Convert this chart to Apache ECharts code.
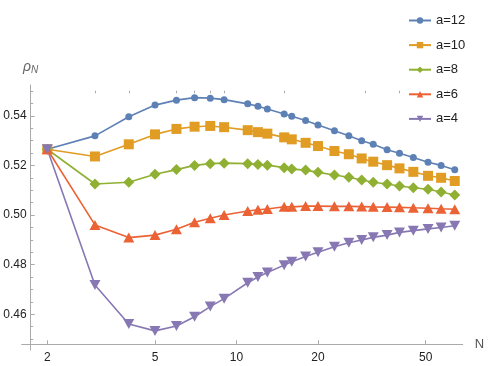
<!DOCTYPE html>
<html>
<head>
<meta charset="utf-8">
<script src="https://cdn.jsdelivr.net/npm/echarts@6/dist/echarts.min.js"></script>
<style>
  html, body { margin: 0; padding: 0; background: #fff; }
  #myChart { width: 498px; height: 366px; }
</style>
</head>
<body>
<div id="myChart"></div>
<script>
// N values (log axis)
var nValues = [2, 3, 4, 5, 6, 7, 8, 9, 11, 12, 13, 15, 16, 18, 20, 23, 26, 29, 32, 36, 40, 45, 51, 57, 64];

var a12 = [0.5265, 0.5319, 0.5396, 0.5443, 0.5463, 0.5473, 0.5471, 0.5465, 0.5448, 0.5438, 0.5427, 0.5407, 0.5398, 0.5381, 0.5363,
           0.5340, 0.5319, 0.5299, 0.5285, 0.5263, 0.5249, 0.5232, 0.5213, 0.5200, 0.5182];
var a10 = [0.5265, 0.5236, 0.5285, 0.5325, 0.5347, 0.5356, 0.5359, 0.5354, 0.5342, 0.5334, 0.5328, 0.5313, 0.5305, 0.5291, 0.5278,
           0.5258, 0.5245, 0.5228, 0.5215, 0.5201, 0.5188, 0.5174, 0.5158, 0.5150, 0.5137];
var a8 = [0.5265, 0.5125, 0.5132, 0.5164, 0.5183, 0.5200, 0.5207, 0.5209, 0.5207, 0.5204, 0.5201, 0.5191, 0.5185, 0.5181, 0.5172,
          0.5161, 0.5152, 0.5141, 0.5132, 0.5125, 0.5117, 0.5110, 0.5104, 0.5093, 0.5081];
var a6 = [0.5265, 0.4960, 0.4909, 0.4919, 0.4943, 0.4971, 0.4987, 0.5000, 0.5016, 0.5021, 0.5024, 0.5033, 0.5033, 0.5036, 0.5036,
          0.5035, 0.5035, 0.5034, 0.5033, 0.5032, 0.5031, 0.5029, 0.5027, 0.5025, 0.5023];
var a4 = [0.5265, 0.4718, 0.4561, 0.4533, 0.4553, 0.4590, 0.4631, 0.4663, 0.4727, 0.4750, 0.4768, 0.4798, 0.4812, 0.4833, 0.4850,
          0.4872, 0.4888, 0.4899, 0.4910, 0.4919, 0.4930, 0.4937, 0.4944, 0.4950, 0.4957];

var xMajorTicks = [2, 5, 10, 20, 50];
var xMinorTicks = [3, 4, 6, 7, 8, 9, 15, 30, 40, 60];
var yMajorTicks = [0.46, 0.48, 0.50, 0.52, 0.54];
var yMinorTicks = [0.45, 0.455, 0.465, 0.47, 0.475, 0.485, 0.49, 0.495, 0.505, 0.51, 0.515, 0.525, 0.53, 0.535, 0.545, 0.55];

var seriesNames = ['a=12', 'a=10', 'a=8', 'a=6', 'a=4'];
var seriesData = [a12, a10, a8, a6, a4];
var colors = ['#5e81b5', '#e19c24', '#8fb032', '#eb6235', '#8778b3'];
var symbols = ['circle', 'rect', 'diamond', 'triangle', 'path://M0,0 L10,0 L5,8.66 Z'];
var symbolSizes = [7, 10, 11, [11, 10], [11, 10]];

function lg(v) { return Math.log10(v); }

var axisColor = '#aaaaaa';
var font = 'Liberation Sans, Arial, sans-serif';
var xMin = 0.2065, xMax = 1.8356;
var yMin = 0.4456, yMax = 0.5524;

var series = seriesNames.map(function (name, i) {
  return {
    name: name,
    type: 'line',
    xAxisIndex: 0,
    yAxisIndex: 0,
    symbol: symbols[i],
    symbolSize: symbolSizes[i],
    showSymbol: true,
    lineStyle: { width: 1.6, color: colors[i] },
    itemStyle: { color: colors[i] },
    data: nValues.map(function (n, k) { return [lg(n), seriesData[i][k]]; })
  };
});

var option = {
  animation: false,
  color: colors,
  textStyle: { fontFamily: font },
  grid: { left: 21.7, right: 35.3, top: 85, bottom: 16 },
  legend: {
    orient: 'vertical',
    left: 403,
    top: 8,
    itemWidth: 22,
    itemHeight: 8,
    itemGap: 9.6,
    textStyle: { fontSize: 13, color: '#222', fontFamily: font, lineHeight: 15 },
    data: seriesNames
  },
  xAxis: [
    {
      type: 'value',
      min: xMin,
      max: xMax,
      offset: -5.7,
      name: 'N',
      nameLocation: 'end',
      nameGap: 12,
      nameTextStyle: { fontSize: 13, color: '#555', verticalAlign: 'middle' },
      axisLine: { onZero: false, lineStyle: { color: axisColor, width: 1 } },
      axisTick: { inside: true, length: 4, lineStyle: { color: axisColor }, customValues: xMajorTicks.map(lg) },
      axisLabel: {
        customValues: xMajorTicks.map(lg),
        margin: 7,
        fontSize: 12,
        color: '#222',
        formatter: function (v) { return String(Math.round(Math.pow(10, v))); }
      },
      splitLine: { show: false }
    },
    {
      type: 'value',
      min: xMin,
      max: xMax,
      offset: -5.7,
      axisLine: { show: false, onZero: false },
      axisTick: { inside: true, length: 2.5, lineStyle: { color: axisColor }, customValues: xMinorTicks.map(lg) },
      axisLabel: { show: false },
      splitLine: { show: false }
    }
  ],
  yAxis: [
    {
      type: 'value',
      min: yMin,
      max: yMax,
      offset: -9,
      name: '{r|ρ}{s|N}',
      nameLocation: 'end',
      nameGap: 10,
      nameTextStyle: {
        align: 'center',
        rich: {
          r: { fontSize: 14, color: '#666', fontStyle: 'italic' },
          s: { fontSize: 10, color: '#666', fontStyle: 'italic', verticalAlign: 'bottom', padding: [6, 0, 0, 0] }
        }
      },
      axisLine: { onZero: false, lineStyle: { color: axisColor, width: 1 } },
      axisTick: { inside: true, length: 4, lineStyle: { color: axisColor }, customValues: yMajorTicks },
      axisLabel: {
        customValues: yMajorTicks,
        margin: 4,
        fontSize: 12,
        color: '#222',
        formatter: function (v) { return v.toFixed(2); }
      },
      splitLine: { show: false }
    },
    {
      type: 'value',
      min: yMin,
      max: yMax,
      offset: -9,
      position: 'left',
      axisLine: { show: false, onZero: false },
      axisTick: { inside: true, length: 2.5, lineStyle: { color: axisColor }, customValues: yMinorTicks },
      axisLabel: { show: false },
      splitLine: { show: false }
    }
  ],
  series: series
};

var myChart = echarts.init(document.getElementById('myChart'));
myChart.setOption(option);
</script>
</body>
</html>
